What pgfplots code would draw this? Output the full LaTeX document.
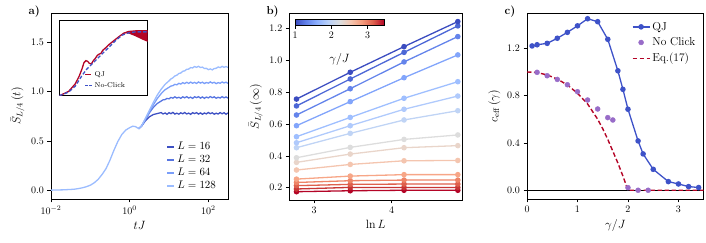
\documentclass[border=0pt]{standalone}
\usepackage{pgfplots}
\pgfplotsset{compat=1.18}
\usepackage{amsmath}
\definecolor{lA}{RGB}{61,80,195}
\definecolor{lB}{RGB}{87,117,225}
\definecolor{lC}{RGB}{122,158,249}
\definecolor{lD}{RGB}{155,188,255}
\definecolor{qjblue}{RGB}{62,82,200}
\definecolor{qjred}{RGB}{180,4,38}
\definecolor{ncpurple}{RGB}{152,108,200}
\definecolor{b1}{RGB}{59,76,192}
\definecolor{b2}{RGB}{76,103,214}
\definecolor{b3}{RGB}{100,132,235}
\definecolor{b4}{RGB}{130,165,251}
\definecolor{b5}{RGB}{159,191,255}
\definecolor{b6}{RGB}{176,202,252}
\definecolor{b7}{RGB}{192,212,245}
\definecolor{b8}{RGB}{221,221,221}
\definecolor{b9}{RGB}{233,213,202}
\definecolor{b10}{RGB}{244,197,175}
\definecolor{b11}{RGB}{247,166,135}
\definecolor{b12}{RGB}{238,132,103}
\definecolor{b13}{RGB}{222,96,77}
\definecolor{b14}{RGB}{199,54,53}
\definecolor{b15}{RGB}{180,4,38}
\pgfplotsset{colormap={coolwarm}{rgb255(0cm)=(59,76,192) rgb255(1cm)=(98,130,234) rgb255(2cm)=(141,176,254) rgb255(3cm)=(184,208,249) rgb255(4cm)=(221,221,221) rgb255(5cm)=(245,196,173) rgb255(6cm)=(244,154,123) rgb255(7cm)=(222,96,77) rgb255(8cm)=(180,4,38)}}
\pgfplotsset{
  myax/.style={scale only axis, anchor=south west,
    tick align=outside, xtick pos=bottom, ytick pos=left,
    axis line style={line width=0.8pt},
    major tick length=3.5pt,
    every tick/.style={black, line width=0.6pt},
    tick label style={font=\fontsize{10}{12}\selectfont},
    label style={font=\fontsize{11.5}{13}\selectfont},
  },
  yfix/.style={yticklabel style={/pgf/number format/.cd,fixed,fixed zerofill,precision=1}},
}
\begin{document}
\begin{tikzpicture}
\useasboundingbox (0pt,0pt) rectangle (706pt,243pt);
% ---------------- panel a
\begin{axis}[myax, yfix, at={(51pt,44pt)}, width=177pt, height=186pt,
  xmin=-2, xmax=2.5, ymin=-0.09, ymax=1.8,
  xtick={-2,0,2}, xticklabels={$10^{-2}$,$10^{0}$,$10^{2}$},
  ytick={0,0.5,1,1.5},
  xlabel={$tJ$}, ylabel={$\bar{S}_{L/4}\,(t)$},
  legend style={at={(0.95,0.03)}, anchor=south east, draw=none, fill=none, font=\fontsize{10.5}{12}\selectfont, row sep=0pt, inner sep=1pt},
  legend cell align=left,
  legend image code/.code={\draw[line width=2pt] (0pt,0pt) -- (7pt,0pt);},
  every axis plot/.append style={line width=1.3pt}]
\addplot[lA] coordinates {(0.23,0.625) (0.3,0.650) (0.4,0.705) (0.5,0.745) (0.6,0.768) (0.7,0.778)
(0.80,0.788) (0.85,0.774) (0.90,0.784) (0.95,0.771) (1.00,0.787) (1.05,0.777) (1.10,0.790) (1.15,0.773) (1.20,0.782) (1.25,0.772) (1.30,0.786) (1.35,0.776) (1.40,0.789) (1.45,0.774) (1.50,0.783) (1.55,0.770) (1.60,0.787) (1.65,0.778) (1.70,0.788) (1.75,0.773) (1.80,0.785) (1.85,0.771) (1.90,0.784) (1.95,0.775) (2.00,0.789) (2.05,0.777) (2.10,0.786) (2.15,0.772) (2.20,0.782) (2.25,0.774) (2.30,0.788) (2.35,0.776) (2.40,0.787) (2.45,0.771) (2.50,0.785)};
\addlegendentry{$L=16$}
\addplot[lB] coordinates {(0.23,0.625) (0.3,0.650) (0.40,0.715) (0.50,0.785) (0.60,0.840) (0.70,0.880) (0.80,0.905) (0.85,0.918) (0.90,0.920) (0.95,0.932) (1.00,0.928) (1.05,0.942) (1.10,0.935) (1.15,0.948) (1.20,0.936) (1.25,0.944) (1.30,0.933) (1.35,0.948) (1.40,0.938) (1.45,0.950) (1.50,0.936) (1.55,0.945) (1.60,0.932) (1.65,0.949) (1.70,0.940) (1.75,0.950) (1.80,0.935) (1.85,0.947) (1.90,0.933) (1.95,0.946) (2.00,0.937) (2.05,0.951) (2.10,0.939) (2.15,0.948) (2.20,0.934) (2.25,0.944) (2.30,0.936) (2.35,0.950) (2.40,0.938) (2.45,0.947) (2.50,0.935)};
\addlegendentry{$L=32$}
\addplot[lC] coordinates {(0.23,0.625) (0.3,0.650) (0.40,0.720) (0.50,0.795) (0.60,0.865) (0.70,0.930) (0.80,0.980) (0.90,1.020) (1.00,1.045) (1.05,1.058) (1.10,1.062) (1.15,1.075) (1.20,1.070) (1.25,1.085) (1.30,1.078) (1.35,1.092) (1.40,1.083) (1.45,1.096) (1.50,1.085) (1.55,1.098) (1.60,1.086) (1.65,1.095) (1.70,1.084) (1.75,1.099) (1.80,1.088) (1.85,1.097) (1.90,1.083) (1.95,1.094) (2.00,1.087) (2.05,1.100) (2.10,1.088) (2.15,1.096) (2.20,1.082) (2.25,1.093) (2.30,1.086) (2.35,1.099) (2.40,1.089) (2.45,1.097) (2.50,1.085)};
\addlegendentry{$L=64$}
\addplot[lD] coordinates {(-2.0,0.000) (-1.9,0.001) (-1.8,0.002) (-1.7,0.003) (-1.6,0.005) (-1.5,0.007) (-1.4,0.010) (-1.3,0.016) (-1.2,0.024) (-1.1,0.035) (-1.0,0.050) (-0.9,0.075) (-0.8,0.110) (-0.7,0.160) (-0.6,0.220) (-0.5,0.305) (-0.4,0.405) (-0.3,0.495) (-0.2,0.565) (-0.1,0.610) (0.0,0.635) (0.08,0.650) (0.15,0.645) (0.23,0.625) (0.3,0.650)
(0.40,0.730) (0.50,0.810) (0.60,0.890) (0.70,0.965) (0.80,1.025) (0.90,1.075) (1.00,1.110) (1.05,1.130) (1.10,1.142) (1.15,1.160) (1.20,1.168) (1.25,1.185) (1.30,1.190) (1.35,1.208) (1.40,1.212) (1.45,1.228) (1.50,1.230) (1.55,1.245) (1.60,1.242) (1.65,1.256) (1.70,1.248) (1.75,1.258) (1.80,1.246) (1.85,1.250) (1.90,1.236) (1.95,1.238) (2.00,1.224) (2.05,1.232) (2.10,1.222) (2.15,1.236) (2.20,1.238) (2.25,1.252) (2.30,1.245) (2.35,1.258) (2.40,1.248) (2.45,1.256) (2.50,1.246)};
\addlegendentry{$L=128$}
\end{axis}
% ---------------- inset
\begin{axis}[scale only axis, anchor=south west, at={(59.3pt,147.3pt)}, width=88.4pt, height=75.7pt,
  xmin=12, xmax=277, ymin=0, ymax=229, xtick=\empty, ytick=\empty,
  axis background/.style={fill=white}, axis line style={line width=0.9pt},
  legend style={at={(0.27,0.05)}, anchor=south west, draw=none, fill=none, font=\fontsize{7}{8}\selectfont, row sep=0.5pt, inner sep=1pt},
  legend cell align=left]
\addplot[draw=none, fill=qjred, forget plot] coordinates {(205,190) (220,196) (240,198) (260,198) (277,198) (277,163) (260,170) (240,180) (220,188) (205,189)} -- cycle;
\addplot[qjred, line width=1.3pt, legend image code/.code={\draw[line width=1.8pt] (0pt,0pt) -- (6pt,0pt);}] coordinates {(12,0) (15,1) (40,13) (60,36) (72,60) (80,81) (86,100) (92,106) (97,104) (102,98) (108,96) (114,106) (120,113) (126,122) (132,126) (137,128) (142,137) (150,144) (160,154) (175,166) (190,178) (205,189) (220,194) (240,194) (260,193) (277,193)};
\addlegendentry{QJ}
\addplot[qjblue, line width=1.3pt, dash pattern=on 3.5pt off 2pt, legend image code/.code={\draw[line width=1.8pt, dash pattern=on 2.5pt off 1.5pt] (0pt,0pt) -- (6.5pt,0pt);}] coordinates {(12,0) (15,1) (40,11) (60,29) (80,61) (95,81) (105,91) (115,101) (130,116) (145,131) (160,146) (180,166) (200,183) (215,189) (240,193) (277,193)};
\addlegendentry{No-Click}
\end{axis}
% ---------------- panel b
\begin{axis}[myax, at={(289.3pt,43pt)}, width=173pt, height=186.7pt,
  xmin=2.68, xmax=4.91, ymin=0.123, ymax=1.294,
  xtick={3,4}, ytick={0.2,0.4,0.6,0.8,1.0,1.2},
  yticklabel style={/pgf/number format/.cd,fixed,fixed zerofill,precision=1},
  xlabel={$\ln L$}, ylabel={$\bar{S}_{L/4}\,(\infty)$},
  every axis plot/.append style={line width=1.3pt, mark=*, mark size=2.1pt}]
\addplot[b15] coordinates {(2.7726,0.175) (3.4657,0.181) (4.1589,0.184) (4.8520,0.184)};
\addplot[b14] coordinates {(2.7726,0.192) (3.4657,0.202) (4.1589,0.202) (4.8520,0.202)};
\addplot[b13] coordinates {(2.7726,0.213) (3.4657,0.221) (4.1589,0.223) (4.8520,0.223)};
\addplot[b12] coordinates {(2.7726,0.233) (3.4657,0.244) (4.1589,0.248) (4.8520,0.248)};
\addplot[b11] coordinates {(2.7726,0.254) (3.4657,0.273) (4.1589,0.282) (4.8520,0.282)};
\addplot[b10] coordinates {(2.7726,0.311) (3.4657,0.346) (4.1589,0.369) (4.8520,0.371)};
\addplot[b9] coordinates {(2.7726,0.359) (3.4657,0.411) (4.1589,0.451) (4.8520,0.464)};
\addplot[b8] coordinates {(2.7726,0.388) (3.4657,0.453) (4.1589,0.503) (4.8520,0.531)};
\addplot[b7] coordinates {(2.7726,0.451) (3.4657,0.541) (4.1589,0.625) (4.8520,0.683)};
\addplot[b6] coordinates {(2.7726,0.482) (3.4657,0.589) (4.1589,0.692) (4.8520,0.775)};
\addplot[b5] coordinates {(2.7726,0.520) (3.4657,0.641) (4.1589,0.761) (4.8520,0.865)};
\addplot[b4] coordinates {(2.7726,0.589) (3.4657,0.740) (4.1589,0.890) (4.8520,1.033)};
\addplot[b3] coordinates {(2.7726,0.656) (3.4657,0.821) (4.1589,0.989) (4.8520,1.148)};
\addplot[b2] coordinates {(2.7726,0.713) (3.4657,0.882) (4.1589,1.049) (4.8520,1.215)};
\addplot[b1] coordinates {(2.7726,0.756) (3.4657,0.924) (4.1589,1.085) (4.8520,1.242)};
\end{axis}
% ---------------- colorbar
\begin{axis}[scale only axis, anchor=south west, at={(295pt,217.3pt)}, width=89pt, height=6.7pt,
  xmin=1, xmax=3.45, ymin=0, ymax=1, ytick=\empty, xtick={1,2,3},
  tick align=outside, xtick pos=bottom, major tick length=3pt,
  every tick/.style={black, line width=0.6pt},
  axis line style={line width=0.7pt}, tick label style={font=\fontsize{10}{12}\selectfont},
  xlabel={$\gamma/J$}, label style={font=\fontsize{11.5}{13}\selectfont}, xlabel style={yshift=-8pt},
  colormap name=coolwarm, axis on top]
\addplot[patch, shader=interp, point meta=x] coordinates {
(1,0) (1.30625,0) (1,1)  (1.30625,0) (1.30625,1) (1,1)
(1.30625,0) (1.6125,0) (1.30625,1)  (1.6125,0) (1.6125,1) (1.30625,1)
(1.6125,0) (1.91875,0) (1.6125,1)  (1.91875,0) (1.91875,1) (1.6125,1)
(1.91875,0) (2.225,0) (1.91875,1)  (2.225,0) (2.225,1) (1.91875,1)
(2.225,0) (2.53125,0) (2.225,1)  (2.53125,0) (2.53125,1) (2.225,1)
(2.53125,0) (2.8375,0) (2.53125,1)  (2.8375,0) (2.8375,1) (2.53125,1)
(2.8375,0) (3.14375,0) (2.8375,1)  (3.14375,0) (3.14375,1) (2.8375,1)
(3.14375,0) (3.45,0) (3.14375,1)  (3.45,0) (3.45,1) (3.14375,1)};
\end{axis}
% ---------------- panel c
\begin{axis}[myax, yfix, at={(527pt,44pt)}, width=176.7pt, height=185.7pt,
  xmin=0, xmax=3.5, ymin=-0.074, ymax=1.496,
  xtick={0,1,2,3}, ytick={0,0.4,0.8,1.2},
  xlabel={$\gamma/J$}, ylabel={$c_{\mathrm{eff}}\,(\gamma)$},
  legend style={at={(0.97,0.97)}, anchor=north east, draw=none, fill=none, font=\fontsize{11.5}{13}\selectfont, row sep=2pt, inner sep=1pt},
  legend cell align=left]
\addplot[black, line width=1.2pt, forget plot] coordinates {(0,0) (3.5,0)};
\addplot[qjblue, line width=1.3pt, mark=*, mark size=2.1pt] coordinates {(0.1,1.22) (0.2,1.23) (0.4,1.242) (0.6,1.285) (0.8,1.335) (1.0,1.39) (1.2,1.45) (1.4,1.425) (1.6,1.276) (1.8,1.01) (1.9,0.853) (2.0,0.685) (2.2,0.417) (2.3,0.307) (2.5,0.177) (2.8,0.073) (3.0,0.053) (3.2,0.031) (3.4,0.023)};
\addlegendentry{QJ}
\addplot[ncpurple, only marks, mark=*, mark size=2.5pt] coordinates {(0.2,0.997) (0.4,0.968) (0.6,0.937) (0.8,0.892) (1.0,0.833) (1.2,0.763) (1.4,0.687) (1.6,0.614) (1.7,0.594) (2.0,0.022) (2.2,0.0) (2.4,0.0)};
\addlegendentry{No Click}
\addplot[qjred, line width=1.4pt, dash pattern=on 4.5pt off 2.5pt] coordinates {(0,1.0) (0.2,0.995) (0.4,0.975) (0.6,0.94) (0.8,0.89) (1.0,0.82) (1.2,0.73) (1.4,0.60) (1.5,0.52) (1.6,0.43) (1.7,0.33) (1.8,0.23) (1.9,0.12) (2.0,0.0) (3.5,0.0)};
\addlegendentry{Eq.(17)}
\end{axis}
% ---------------- panel labels
\node[anchor=base west, font=\fontsize{11.5}{13}\selectfont\bfseries] at (25pt,228pt) {a)};
\node[anchor=base west, font=\fontsize{11.5}{13}\selectfont\bfseries] at (263pt,228pt) {b)};
\node[anchor=base west, font=\fontsize{11.5}{13}\selectfont\bfseries] at (501pt,228pt) {c)};
\end{tikzpicture}
\end{document}
